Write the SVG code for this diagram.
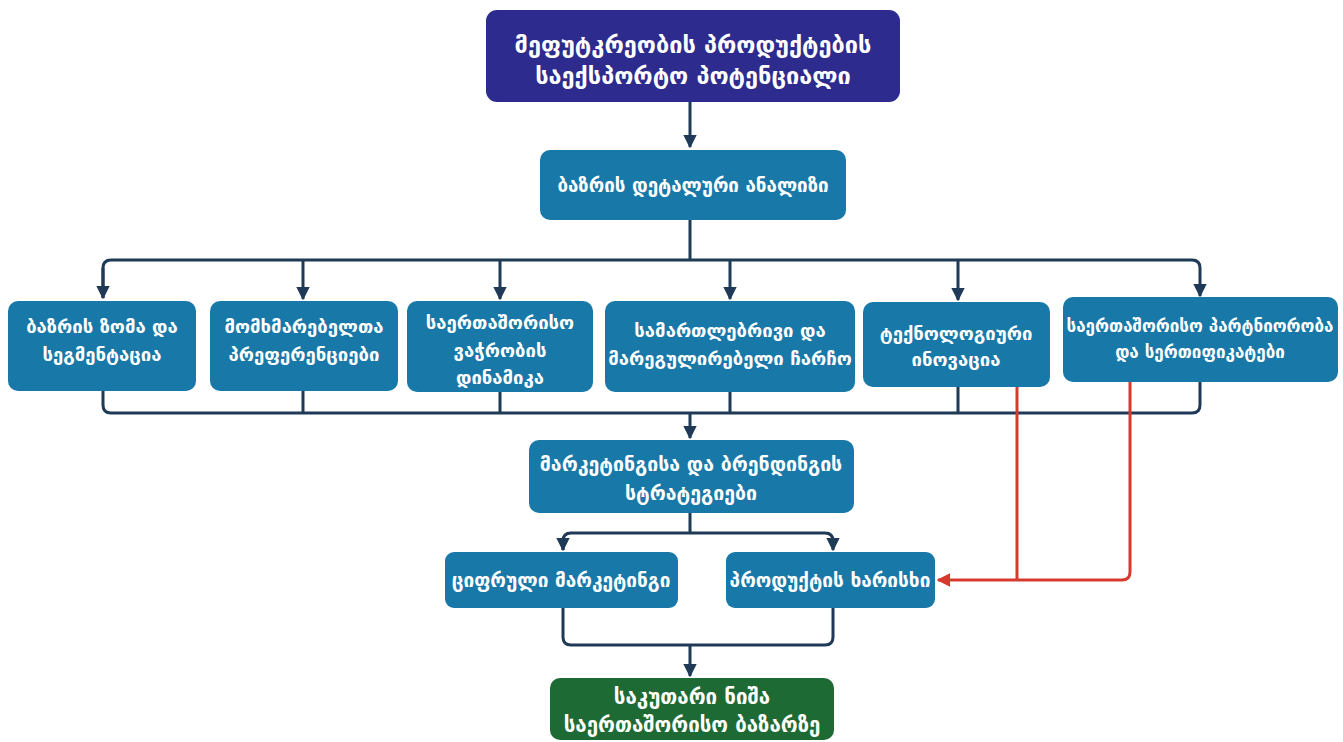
<svg xmlns="http://www.w3.org/2000/svg" width="1343" height="742" viewBox="0 0 1343 742">
<defs>
<marker id="ah" viewBox="0 0 10 10" refX="9" refY="5" markerWidth="4.5" markerHeight="4.5" orient="auto" markerUnits="strokeWidth"><path d="M0,0 L10,5 L0,10 z" fill="#1f3a57"/></marker>
<marker id="ahr" viewBox="0 0 10 10" refX="9" refY="5" markerWidth="4.5" markerHeight="4.5" orient="auto" markerUnits="strokeWidth"><path d="M0,0 L10,5 L0,10 z" fill="#d63a2f"/></marker>
<style>
.n{fill:#1878a8}
.top{fill:#2d2b8d}
.g{fill:#1e6a34}
.t{font-family:"DejaVu Sans",sans-serif;font-weight:bold;fill:#fff;text-anchor:middle;font-size:18.5px}
.tl{font-size:23.5px}
.c{fill:none;stroke:#1f3a57;stroke-width:3;stroke-linejoin:round}
.r{fill:none;stroke:#d63a2f;stroke-width:3;stroke-linejoin:round}
</style>
</defs>
<rect width="1343" height="742" fill="#fff"/>
<g id="connectors">
<path class="c" d="M690,102 V147" marker-end="url(#ah)"/>
<path class="c" d="M690,220 V260"/>
<path class="c" d="M103,298 V268 Q103,260 111,260 H1192 Q1200,260 1200,268 V296" marker-end="url(#ah)"/>
<path class="c" d="M103,268 V298" marker-end="url(#ah)"/>
<path class="c" d="M303,260 V299" marker-end="url(#ah)"/>
<path class="c" d="M500,260 V299" marker-end="url(#ah)"/>
<path class="c" d="M730,260 V299" marker-end="url(#ah)"/>
<path class="c" d="M958,260 V300" marker-end="url(#ah)"/>
<path class="c" d="M103,391 V405 Q103,413 111,413 H1192 Q1200,413 1200,405 V382"/>
<path class="c" d="M303,391 V413 M500,392 V413 M730,392 V413 M958,387 V413"/>
<path class="c" d="M690,413 V438" marker-end="url(#ah)"/>
<path class="c" d="M690,513 V533"/>
<path class="c" d="M563,550 V541 Q563,533 571,533 H825 Q833,533 833,541 V550" marker-end="url(#ah)"/>
<path class="c" d="M563,541 V550" marker-end="url(#ah)"/>
<path class="c" d="M563,608 V637 Q563,645 571,645 H825 Q833,645 833,637 V608"/>
<path class="c" d="M690,645 V676" marker-end="url(#ah)"/>
<path class="r" d="M1017,387 V580"/>
<path class="r" d="M1130,382 V572 Q1130,580 1122,580 H938" marker-end="url(#ahr)"/>
</g>
<g id="n1"><rect class="top" x="486" y="10" width="414" height="92" rx="11"/>
<text class="t tl" x="693" y="53">მეფუტკრეობის პროდუქტების</text>
<text class="t tl" x="693" y="84">საექსპორტო პოტენციალი</text></g>
<g id="n2"><rect class="n" x="540" y="150" width="306" height="70" rx="10"/>
<text class="t" x="693" y="192" style="font-size:18.8px">ბაზრის დეტალური ანალიზი</text></g>
<g id="n3"><rect class="n" x="8" y="301" width="188" height="90" rx="10"/>
<text class="t" x="102" y="333">ბაზრის ზომა და</text>
<text class="t" x="102" y="361">სეგმენტაცია</text></g>
<g id="n4"><rect class="n" x="210" y="301" width="188" height="90" rx="10"/>
<text class="t" x="304" y="333">მომხმარებელთა</text>
<text class="t" x="304" y="361">პრეფერენციები</text></g>
<g id="n5"><rect class="n" x="407" y="301" width="186" height="91" rx="10"/>
<text class="t" x="500" y="329">საერთაშორისო</text>
<text class="t" x="500" y="357">ვაჭრობის</text>
<text class="t" x="500" y="384">დინამიკა</text></g>
<g id="n6"><rect class="n" x="605" y="301" width="250" height="91" rx="10"/>
<text class="t" x="730" y="337">სამართლებრივი და</text>
<text class="t" x="730" y="365">მარეგულირებელი ჩარჩო</text></g>
<g id="n7"><rect class="n" x="863" y="302" width="187" height="85" rx="10"/>
<text class="t" x="956" y="340">ტექნოლოგიური</text>
<text class="t" x="956" y="366">ინოვაცია</text></g>
<g id="n8"><rect class="n" x="1063" y="297" width="275" height="85" rx="10"/>
<text class="t" x="1200" y="332" style="font-size:17px">საერთაშორისო პარტნიორობა</text>
<text class="t" x="1200" y="358" style="font-size:17px">და სერთიფიკატები</text></g>
<g id="n9"><rect class="n" x="529" y="440" width="325" height="73" rx="10"/>
<text class="t" x="691" y="471" style="font-size:19.5px">მარკეტინგისა და ბრენდინგის</text>
<text class="t" x="691" y="500" style="font-size:19.5px">სტრატეგიები</text></g>
<g id="n10"><rect class="n" x="445" y="552" width="233" height="56" rx="9"/>
<text class="t" x="561" y="587" style="font-size:19px">ციფრული მარკეტინგი</text></g>
<g id="n11"><rect class="n" x="726" y="552" width="209" height="56" rx="9"/>
<text class="t" x="830" y="587" style="font-size:19px">პროდუქტის ხარისხი</text></g>
<g id="n12"><rect class="g" x="550" y="678" width="284" height="62" rx="10"/>
<text class="t" x="692" y="704" style="font-size:20.5px">საკუთარი ნიშა</text>
<text class="t" x="692" y="732" style="font-size:20.5px">საერთაშორისო ბაზარზე</text></g>
</svg>
